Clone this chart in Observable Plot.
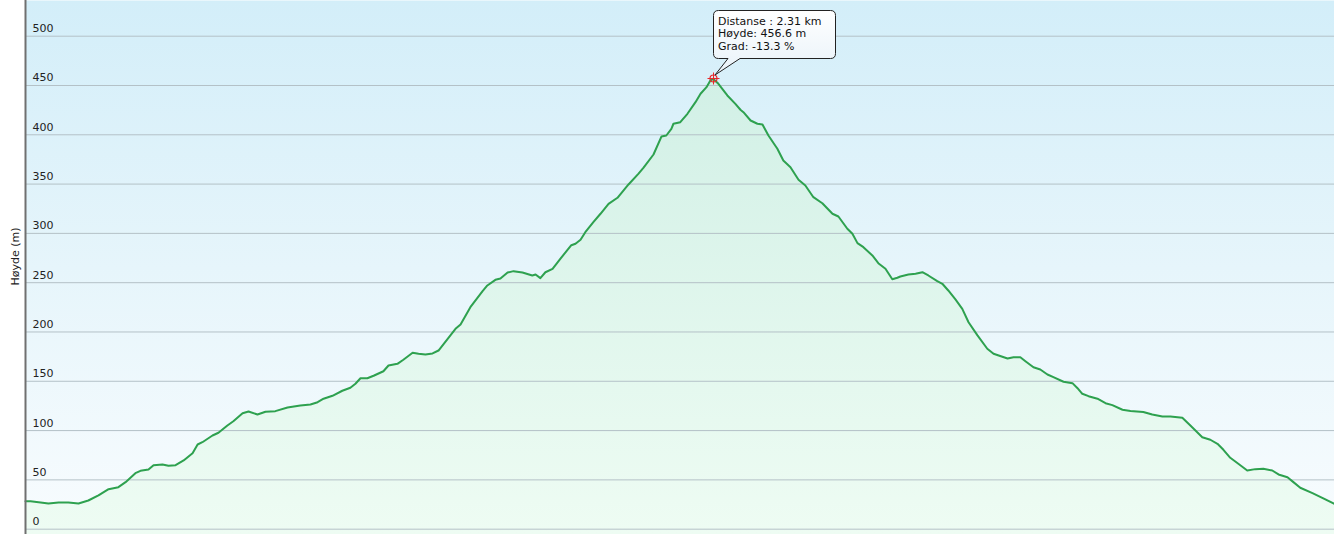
<!DOCTYPE html>
<html><head><meta charset="utf-8">
<script src="https://cdn.jsdelivr.net/npm/d3@7"></script>
<script src="https://cdn.jsdelivr.net/npm/@observablehq/plot@0.6"></script>
<style>
html,body{margin:0;padding:0;background:#fff;}
#chart svg{display:block;}
</style></head><body><div id="chart"></div>
<script>
// Distance along the route (km)
const distanceKm = [0,0.017,0.044,0.077,0.111,0.144,0.178,0.211,0.245,0.279,0.312,0.336,0.369,0.386,0.413,0.430,0.460,0.480,0.504,0.531,0.561,0.578,0.594,0.628,0.648,0.678,0.698,0.729,0.749,0.779,0.806,0.839,0.880,0.923,0.957,0.981,1.001,1.031,1.064,1.091,1.108,1.125,1.148,1.169,1.202,1.219,1.249,1.269,1.300,1.320,1.343,1.367,1.387,1.444,1.461,1.494,1.535,1.551,1.578,1.595,1.619,1.639,1.669,1.702,1.713,1.729,1.746,1.770,1.796,1.833,1.847,1.864,1.880,1.907,1.931,1.958,1.988,2.025,2.058,2.075,2.109,2.136,2.152,2.169,2.176,2.199,2.223,2.250,2.267,2.287,2.300,2.310,2.327,2.357,2.384,2.401,2.411,2.435,2.458,2.475,2.495,2.525,2.545,2.569,2.596,2.619,2.646,2.676,2.710,2.730,2.760,2.777,2.794,2.814,2.844,2.864,2.888,2.911,2.928,2.938,2.965,2.989,3.012,3.032,3.062,3.079,3.099,3.123,3.146,3.167,3.197,3.230,3.251,3.298,3.318,3.341,3.358,3.385,3.408,3.432,3.452,3.486,3.516,3.533,3.549,3.570,3.600,3.627,3.650,3.684,3.711,3.754,3.784,3.818,3.845,3.885,3.912,3.952,3.979,4.003,4.023,4.046,4.073,4.103,4.130,4.157,4.187,4.208,4.238,4.258,4.281,4.322,4.355,4.396];
// Elevation (m)
const elevationM = [28.4,28.4,27.4,26.1,27.1,27.1,26.1,29.1,34.2,40.6,42.6,47.7,56.8,59.2,60.5,64.9,65.6,64.3,64.9,69.7,77.1,85.9,88.2,95.0,97.8,105.2,109.5,117.6,119.4,116.3,119.1,119.7,123.4,125.5,126.5,128.8,132.3,135.3,140.4,143.4,147.5,153.1,153.1,155.6,160.2,166.0,167.7,171.8,178.9,177.9,177.2,178.2,181.2,203.2,207.6,225.2,241.4,247.2,252.9,254.3,260.3,261.7,260.3,257.3,258.3,254.6,260.6,264.1,274.2,288.0,289.5,293.5,301.2,311.4,319.9,330.0,336.1,349.6,360.4,366.5,380.0,398.3,399.3,406.1,411.2,412.8,421.3,433.1,441.6,448.3,455.1,456.6,451.7,439.9,431.4,425.4,422.9,414.5,411.2,410.4,399.3,385.8,373.9,367.1,354.4,348.6,336.7,330.6,319.9,317.1,304.7,299.6,290.1,286.0,277.6,269.8,264.1,253.5,255.0,256.3,258.3,259.0,260.6,257.3,251.5,248.9,242.1,233.0,223.5,209.9,196.5,183.0,177.9,173.1,174.4,174.4,170.4,164.3,162.0,156.9,154.2,149.5,148.1,143.0,137.3,134.9,132.3,127.8,125.8,121.1,119.9,118.9,116.3,114.3,114.3,113.0,105.2,93.3,90.7,86.6,80.5,72.4,66.3,59.5,60.9,61.3,59.5,55.5,52.7,47.7,42.0,36.5,31.8,25.6];
// Y tick values
const yTicks = [0,50,100,150,200,250,300,350,400,450,500];
const yLabel = "Høyde (m)";
// Highlighted point (tooltip)
const peakKm = [2.31];
const peakM = [456.6];
const tooltipLines = ["Distanse : 2.31 km", "Høyde: 456.6 m", "Grad: -13.3 %"];

const data = distanceKm.map((d, i) => ({km: d, m: elevationM[i]}));
const peak = {km: peakKm[0], m: peakM[0]};
const Y_MIN = -5.4, Y_MAX = 536.2, X_MAX = 4.396;
const NS = "http://www.w3.org/2000/svg";

function defsMark() {
  const d = document.createElementNS(NS, "defs");
  d.innerHTML = `
    <linearGradient id="bgGrad" gradientUnits="userSpaceOnUse" x1="0" y1="0" x2="0" y2="534">
      <stop offset="0" stop-color="#d3eef9"/>
      <stop offset="0.5" stop-color="#e6f5fb"/>
      <stop offset="1" stop-color="#f8fcfe"/>
    </linearGradient>
    <linearGradient id="areaGrad" gradientUnits="userSpaceOnUse" x1="0" y1="0" x2="0" y2="534">
      <stop offset="0" stop-color="#cdeee4"/>
      <stop offset="1" stop-color="#eefcf3"/>
    </linearGradient>
    <linearGradient id="tipGrad" x1="0" y1="0" x2="0" y2="1">
      <stop offset="0" stop-color="#ffffff"/>
      <stop offset="1" stop-color="#e8f2f9"/>
    </linearGradient>`;
  return d;
}

function markerMark(index, scales) {
  const x = Math.round(scales.x(peak.km)) + 0.5, y = Math.round(scales.y(peak.m)) + 0.5;
  const g = document.createElementNS(NS, "g");
  g.innerHTML = `
    <circle cx="${x}" cy="${y}" r="3.5" fill="none" stroke="#e8282b" stroke-width="1.2"/>
    <circle cx="${x}" cy="${y}" r="1" fill="#e8282b"/>
    <path d="M${x-6},${y}H${x+6}M${x},${y-6}V${y+6}" stroke="#e8282b" stroke-width="1"/>`;
  return g;
}

function tooltipMark(index, scales) {
  const x = Math.round(scales.x(peak.km)), y = Math.round(scales.y(peak.m));
  const L = x + 0.5, R = x + 122.5, T = y - 67.5, B = y - 19.5, r = 5;
  const tipX = x + 2, tipY = y - 3;
  const p1 = x + 15, p2 = x + 27;
  const g = document.createElementNS(NS, "g");
  const path = `M${L+r},${T}H${R-r}Q${R},${T} ${R},${T+r}V${B-r}Q${R},${B} ${R-r},${B}H${p2}L${tipX},${tipY}L${p1},${B}H${L+r}Q${L},${B} ${L},${B-r}V${T+r}Q${L},${T} ${L+r},${T}Z`;
  let html = `<path d="${path}" fill="url(#tipGrad)" stroke="#222" stroke-width="1"/>`;
  tooltipLines.forEach((t, i) => {
    html += `<text x="${x + 5}" y="${y - 53 + i * 12.3}" font-size="11" fill="#111" text-anchor="start">${t}</text>`;
  });
  g.innerHTML = html;
  return g;
}

const chart = Plot.plot({
  width: 1334,
  height: 534,
  marginLeft: 25,
  marginRight: 0,
  marginTop: 0,
  marginBottom: 0,
  x: {domain: [0, X_MAX], axis: null},
  y: {domain: [Y_MIN, Y_MAX], axis: null},
  style: {fontFamily: "'DejaVu Sans', Verdana, sans-serif", fontSize: "11px", background: "white", overflow: "visible"},
  marks: [
    defsMark,
    Plot.frame({fill: "url(#bgGrad)", stroke: null}),
    Plot.areaY(data, {x: "km", y1: () => Y_MIN, y2: "m", fill: "url(#areaGrad)"}),
    Plot.ruleY(yTicks, {stroke: "#b4c1c7", strokeWidth: 1}),
    Plot.lineY(data, {x: "km", y: "m", stroke: "#2ea14f", strokeWidth: 2}),
    Plot.text(yTicks, {y: d => d, text: d => String(d), frameAnchor: "left", dx: 7, dy: -4, lineAnchor: "bottom", textAnchor: "start", fill: "#222"}),
    Plot.ruleX([0], {stroke: "#707070", strokeWidth: 2}),
    Plot.text([yLabel], {text: d => d, frameAnchor: "left", dx: -10, dy: 18, rotate: -90, fill: "#222"}),
    markerMark,
    tooltipMark
  ]
});
document.getElementById("chart").appendChild(chart);
</script>
</body></html>
